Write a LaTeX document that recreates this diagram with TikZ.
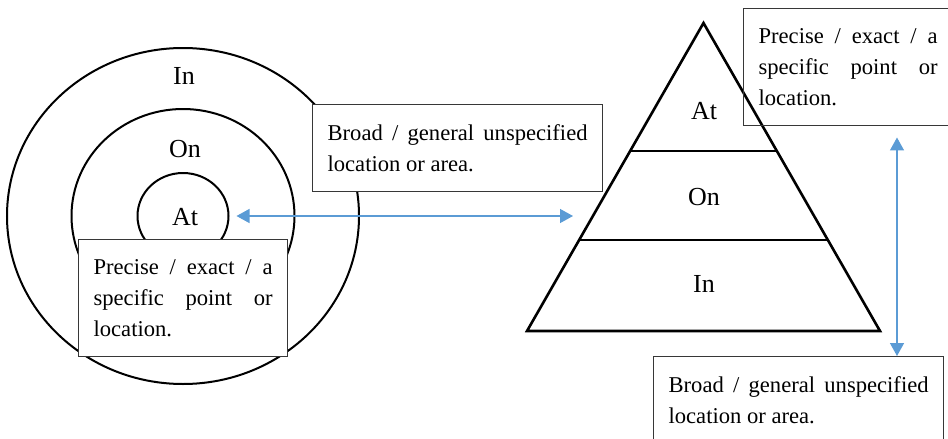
\documentclass[tikz,border=0pt]{standalone}
\usepackage{fontspec}
\setmainfont{Liberation Serif}
\usetikzlibrary{positioning,arrows.meta,shapes.geometric,calc}
\definecolor{arrowblue}{RGB}{91,155,213}
\definecolor{boxline}{RGB}{55,55,55}

\begin{document}
\begin{tikzpicture}[x=0.5pt,y=-0.5pt,
  notebox/.style={rectangle,draw=boxline,line width=0.6pt,align=justify,
    font=\fontsize{11.3}{15.5}\selectfont,inner xsep=7.5pt,inner ysep=10pt,anchor=north west},
  ringlabel/.style={font=\fontsize{13}{15}\selectfont},
  biarrow/.style={draw=arrowblue,line width=0.7pt,
    {Triangle[length=6.5pt,width=7pt]}-{Triangle[length=6.5pt,width=7pt]}}]
\useasboundingbox (0,0) rectangle (948,439);

% rings
\coordinate (cc) at (183,216);
\draw[line width=1pt] (cc) ellipse [x radius=176,y radius=168];
\draw[line width=1pt] (cc) ellipse [x radius=111.5,y radius=107];
\node[ellipse,draw,line width=1pt,minimum width=45.5pt,minimum height=43pt,inner sep=0pt] (atc) at (cc) {};
\node[ringlabel] (inc) at (184,76) {In};
\node[ringlabel] (onc) at (185,149) {On};
\node[ringlabel] (atl) at (185,217) {At};

\node[notebox,fill=white,text width=89.5pt] (prl) at (78,239)
  {Precise / exact / a\linebreak specific point or\linebreak location.};
\node[notebox,fill=white,text width=130pt] (brm) at (312,104)
  {Broad / general unspecified\linebreak location or area.};

% pyramid
\coordinate (apex) at (703.5,23);
\coordinate (bl) at (527,331);
\coordinate (br) at (880,331);
\draw[line width=1.3pt,line join=miter] (apex) -- (bl) -- (br) -- cycle;
\draw[line width=0.6pt] ($(apex)!0.4156!(bl)$) -- ($(apex)!0.4156!(br)$);
\draw[line width=0.6pt] ($(apex)!0.7045!(bl)$) -- ($(apex)!0.7045!(br)$);
\node[ringlabel] (atp) at (704,111) {At};
\node[ringlabel] (onp) at (704,197) {On};
\node[ringlabel] (inp) at (704,284) {In};

\node[notebox,text width=89.5pt] (prr) at (743,8)
  {Precise / exact / a\linebreak specific point or\linebreak location.};
\node[notebox,fill=white,text width=130pt] (brr) at (653,356)
  {Broad / general unspecified\linebreak location or area.};

% arrows
\coordinate (pyl) at (573,216);
\coordinate (vx) at (897,0);
\draw[biarrow] ([xshift=3.5pt]atc.east) -- (pyl);
\draw[biarrow] ([yshift=-5.5pt]prr.south -| vx) -- (brr.north -| vx);
\end{tikzpicture}
\end{document}
